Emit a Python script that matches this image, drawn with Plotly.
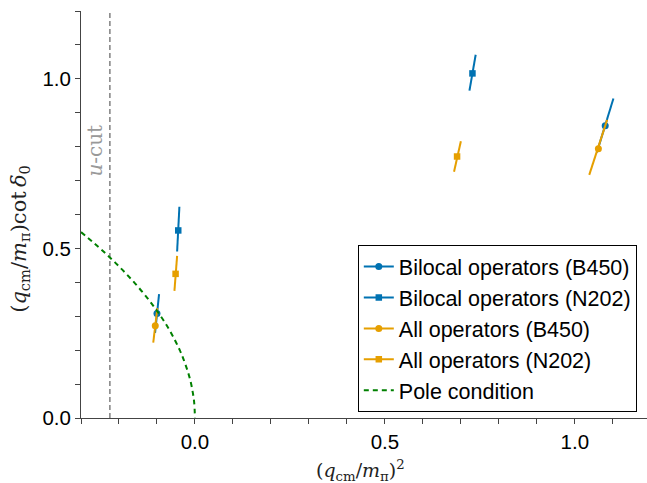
import plotly.graph_objects as go

# Data
series_names = ["Bilocal operators (B450)", "Bilocal operators (N202)",
                "All operators (B450)", "All operators (N202)"]
series_colors = ["#0072B2", "#0072B2", "#E69F00", "#E69F00"]
series_symbols = ["circle", "square", "circle", "square"]
series_msize = [7, 6.5, 7, 6.5]

bl_b450_x = [-0.100, 1.080]
bl_b450_y = [0.308, 0.862]
bl_b450_xlo = [-0.105, 1.058]
bl_b450_ylo = [0.251, 0.783]
bl_b450_xhi = [-0.0945, 1.1016]
bl_b450_yhi = [0.365, 0.942]

bl_n202_x = [-0.044, 0.7305]
bl_n202_y = [0.553, 1.016]
bl_n202_xlo = [-0.047, 0.7226]
bl_n202_ylo = [0.491, 0.965]
bl_n202_xhi = [-0.041, 0.739]
bl_n202_yhi = [0.623, 1.071]

all_b450_x = [-0.1045, 1.062]
all_b450_y = [0.272, 0.794]
all_b450_xlo = [-0.1098, 1.038]
all_b450_ylo = [0.222, 0.717]
all_b450_xhi = [-0.099, 1.085]
all_b450_yhi = [0.324, 0.879]

all_n202_x = [-0.051, 0.690]
all_n202_y = [0.425, 0.771]
all_n202_xlo = [-0.054, 0.682]
all_n202_ylo = [0.375, 0.726]
all_n202_xhi = [-0.047, 0.700]
all_n202_yhi = [0.478, 0.816]

pole_x = [-0.30, -0.27, -0.24, -0.21, -0.18, -0.15, -0.12, -0.10, -0.08, -0.06,
          -0.04, -0.03, -0.02, -0.012, -0.006, -0.002, 0.0]
pole_y = [0.548, 0.520, 0.490, 0.458, 0.424, 0.387, 0.346, 0.316, 0.283, 0.245,
          0.200, 0.173, 0.141, 0.110, 0.077, 0.045, 0.0]

ucut_x = -0.224

x_title = "(<i>q</i><sub>cm</sub>/<i>m</i><sub>π</sub>)<sup>2</sup>"
y_title = "(<i>q</i><sub>cm</sub>/<i>m</i><sub>π</sub>)cot\u2009<i>δ</i><sub>0</sub>"

series = [
    (bl_b450_x, bl_b450_y, bl_b450_xlo, bl_b450_ylo, bl_b450_xhi, bl_b450_yhi),
    (bl_n202_x, bl_n202_y, bl_n202_xlo, bl_n202_ylo, bl_n202_xhi, bl_n202_yhi),
    (all_b450_x, all_b450_y, all_b450_xlo, all_b450_ylo, all_b450_xhi, all_b450_yhi),
    (all_n202_x, all_n202_y, all_n202_xlo, all_n202_ylo, all_n202_xhi, all_n202_yhi),
]

fig = go.Figure()

for i, (xs, ys, xlo, ylo, xhi, yhi) in enumerate(series):
    ex, ey = [], []
    for a, b, c, d in zip(xlo, ylo, xhi, yhi):
        ex += [a, c, None]
        ey += [b, d, None]
    fig.add_trace(go.Scatter(x=ex, y=ey, mode="lines",
                             line=dict(color=series_colors[i], width=2),
                             showlegend=False, hoverinfo="skip",
                             legendgroup=str(i)))
    mx, my = [], []
    for a, b in zip(xs, ys):
        mx += [a, None]
        my += [b, None]
    fig.add_trace(go.Scatter(x=mx, y=my, mode="lines+markers", name=series_names[i],
                             line=dict(color=series_colors[i], width=2),
                             marker=dict(symbol=series_symbols[i], size=series_msize[i],
                                         color=series_colors[i]),
                             legendgroup=str(i)))

fig.add_trace(go.Scatter(x=pole_x, y=pole_y, mode="lines", name="Pole condition",
                         line=dict(color="#008000", width=2, dash="5px,4px", shape="spline")))

fig.add_shape(type="line", xref="x", yref="paper", x0=ucut_x, x1=ucut_x, y0=0, y1=1,
              line=dict(color="#888888", width=1.6, dash="5px,3px"), layer="below")
fig.add_annotation(x=ucut_x, y=0.788, xref="x", yref="y", text="<i>u</i>-cut",
                   textangle=-90, showarrow=False, xanchor="right", yanchor="middle",
                   xshift=-1, font=dict(family="DejaVu Serif", size=20, color="#999999"))

# axis titles as annotations for precise placement
fig.add_annotation(x=0.493, y=-0.128, xref="paper", yref="paper", text=x_title,
                   showarrow=False, xanchor="center", yanchor="middle",
                   font=dict(family="DejaVu Serif", size=19, color="#222"))
fig.add_annotation(x=-0.108, y=0.44, xref="paper", yref="paper", text=y_title,
                   textangle=-90, showarrow=False, xanchor="center", yanchor="middle",
                   font=dict(family="DejaVu Serif", size=21, color="#222"))

axis_common = dict(showline=True, linecolor="#444", linewidth=1, showgrid=False,
                   zeroline=False, ticks="outside", ticklen=5, tickcolor="#444",
                   tickformat=".1f", dtick=0.5, tick0=0, automargin=False,
                   tickfont=dict(family="Liberation Sans", size=20.5, color="black"),
                   minor=dict(dtick=0.1, tick0=0, ticks="outside", ticklen=5,
                              tickcolor="#444", showgrid=False))

fig.update_layout(
    width=647, height=483,
    margin=dict(l=81, r=0, t=11, b=65),
    plot_bgcolor="white", paper_bgcolor="white",
    xaxis=dict(range=[-0.3, 1.19], **axis_common),
    yaxis=dict(range=[0, 1.2], **axis_common),
    legend=dict(x=0.982, y=0.0147, xanchor="right", yanchor="bottom",
                bgcolor="white", bordercolor="black", borderwidth=1,
                font=dict(family="Liberation Sans", size=21.5, color="black"),
                itemwidth=30, tracegroupgap=0),
    showlegend=True,
)

fig.write_html("out.html", config={"displayModeBar": False},
               post_script="document.body.style.margin='0';document.body.style.overflow='hidden';")
